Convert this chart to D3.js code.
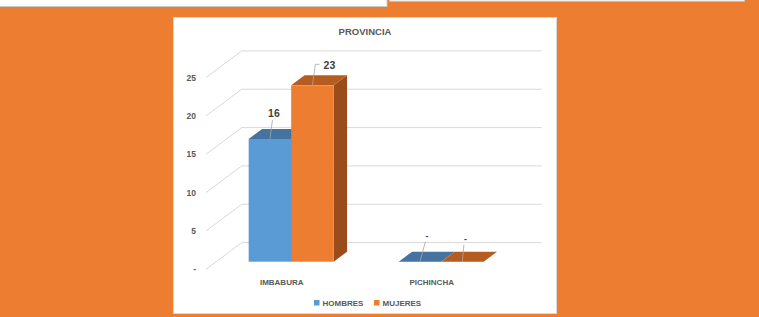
<!DOCTYPE html>
<html>
<head>
<meta charset="utf-8">
<script src="https://cdn.jsdelivr.net/npm/d3@7"></script>
<style>
  html, body { margin: 0; padding: 0; background: #ED7D31; }
  svg { display: block; font-family: "Liberation Sans", Arial, sans-serif; }
</style>
</head>
<body>
<div id="chart"></div>
<script>
// data
var categories = ["IMBABURA", "PICHINCHA"];
var seriesNames = ["HOMBRES", "MUJERES"];
var hombres = [16, 0];
var mujeres = [23, 0];
var yTicks = [0, 5, 10, 15, 20, 25];

var width = 759, height = 317;

var svg = d3.select("#chart").append("svg")
    .attr("width", width)
    .attr("height", height);

// orange page background + bits of the other boxes at the top
svg.append("rect").attr("width", width).attr("height", height).attr("fill", "#ED7D31");
svg.append("rect").attr("x", -1).attr("y", -1).attr("width", 388).attr("height", 7.5)
    .attr("fill", "#fff").attr("stroke", "#C9C9C9");
svg.append("rect").attr("x", 389.5).attr("y", -1).attr("width", 355).attr("height", 2.2)
    .attr("fill", "#fff").attr("stroke", "#C9C9C9");

// the white chart panel
svg.append("rect").attr("x", 173.5).attr("y", 17.5).attr("width", 383).attr("height", 296)
    .attr("fill", "#fff").attr("stroke", "#D9D9D9");

svg.append("text")
    .attr("x", 365).attr("y", 35)
    .attr("text-anchor", "middle")
    .attr("font-size", 9.5).attr("font-weight", "bold")
    .attr("fill", "#595959")
    .text("PROVINCIA");

// pseudo 3d set-up: front plane + a depth vector
var x0 = 206, x1 = 506, yBase = 269.3;
var depth = [35.7, -26.7];
var barFront = 0.285, barBack = 0.66;   // fractions of the depth the bars sit in

var yScale = d3.scaleLinear().domain([0, 25]).range([yBase, yBase - 191.7]);
var xScale = d3.scaleBand().domain(categories).range([x0, x1]);
var groupW = 85;
var xSub = d3.scaleBand().domain(seriesNames).range([0, groupW]);

var grid = svg.append("g").attr("stroke", "#D9D9D9").attr("stroke-width", 1).attr("fill", "none");
yTicks.forEach(function(t) {
    var yf = yScale(t);
    grid.append("path")
        .attr("d", "M" + x0 + "," + yf + "L" + (x0 + depth[0]) + "," + (yf + depth[1]) +
                   "L" + (x1 + depth[0]) + "," + (yf + depth[1]));
});

// y axis labels (zero shows as "-")
svg.append("g").selectAll("text").data(yTicks).enter().append("text")
    .attr("x", 196)
    .attr("y", function(d) { return yScale(d) + 3; })
    .attr("text-anchor", "end")
    .attr("font-size", 8.5).attr("font-weight", "bold")
    .attr("fill", "#595959")
    .text(function(d) { return d === 0 ? "-" : d; });

// category labels
svg.append("g").selectAll("text").data(categories).enter().append("text")
    .attr("x", function(d) { return xScale(d) + xScale.bandwidth() / 2 + depth[0] * 0.02; })
    .attr("y", 284.5)
    .attr("text-anchor", "middle")
    .attr("font-size", 8).attr("font-weight", "bold")
    .attr("fill", "#595959")
    .text(function(d) { return d; });

// bars
var colours = {
    HOMBRES: { front: "#5B9BD5", top: "#44739F", side: "#335B82" },
    MUJERES: { front: "#ED7D31", top: "#B65C20", side: "#9B4C1B" }
};

var bars = [];
categories.forEach(function(c, i) {
    bars.push({ cat: c, s: "HOMBRES", v: hombres[i] });
    bars.push({ cat: c, s: "MUJERES", v: mujeres[i] });
});

var fx = depth[0] * barFront, fy = depth[1] * barFront;
var bx = depth[0] * (barBack - barFront), by = depth[1] * (barBack - barFront);

function pts(a) { return a.map(function(p) { return p.join(","); }).join(" "); }

var barG = svg.append("g");
bars.forEach(function(b) {
    var xl = xScale(b.cat) + (xScale.bandwidth() - groupW) / 2 + xSub(b.s) + fx;
    var xr = xl + xSub.bandwidth();
    var yb = yScale(0) + fy;
    var yt = yScale(b.v) + fy;
    var col = colours[b.s];
    b.fx = (xl + xr) / 2;
    b.fy = yt;
    // side
    if (b.v > 0) {
        barG.append("polygon")
            .attr("points", pts([[xr, yt], [xr + bx, yt + by], [xr + bx, yb + by], [xr, yb]]))
            .attr("fill", col.side);
    }
    // top
    barG.append("polygon")
        .attr("points", pts([[xl, yt], [xl + bx, yt + by], [xr + bx, yt + by], [xr, yt]]))
        .attr("fill", col.top);
    // front
    if (b.v > 0) {
        barG.append("rect")
            .attr("x", xl).attr("y", yt)
            .attr("width", xr - xl).attr("height", yb - yt)
            .attr("fill", col.front);
    }
});

// data labels with leader lines, nudged like the original
var labelNudge = [[4, -26], [17, -20], [7, -27], [3, -24]];
var lab = svg.append("g");
bars.forEach(function(b, i) {
    var lx = b.fx + labelNudge[i][0], ly = b.fy + labelNudge[i][1];
    var lineTop = b.v > 0 ? ly + 7 : ly + 7;
    var startX = i === 1 ? b.fx + 3 : lx - 1.5;
    var startY = i === 1 ? ly - 1 : lineTop;
    lab.append("line")
        .attr("x1", startX).attr("y1", startY)
        .attr("x2", b.fx).attr("y2", b.fy)
        .attr("stroke", "#A6A6A6").attr("stroke-width", 0.8);
    if (i === 1) {
        lab.append("line")
            .attr("x1", startX).attr("y1", startY)
            .attr("x2", startX + 4).attr("y2", startY)
            .attr("stroke", "#A6A6A6").attr("stroke-width", 0.8);
    }
    lab.append("text")
        .attr("x", lx).attr("y", ly + 4)
        .attr("text-anchor", "middle")
        .attr("font-size", b.v > 0 ? 10.5 : 9).attr("font-weight", "bold")
        .attr("fill", "#404040")
        .text(b.v === 0 ? "-" : b.v);
});

// legend
var legendX = [314, 374];
var leg = svg.append("g").selectAll("g").data(seriesNames).enter().append("g")
    .attr("transform", function(d, i) { return "translate(" + legendX[i] + ",300)"; });
leg.append("rect").attr("width", 5.5).attr("height", 5.5)
    .attr("fill", function(d) { return colours[d].front; });
leg.append("text").attr("x", 8.5).attr("y", 5.8)
    .attr("font-size", 8).attr("font-weight", "bold")
    .attr("fill", "#595959")
    .text(function(d) { return d; });
</script>
</body>
</html>
